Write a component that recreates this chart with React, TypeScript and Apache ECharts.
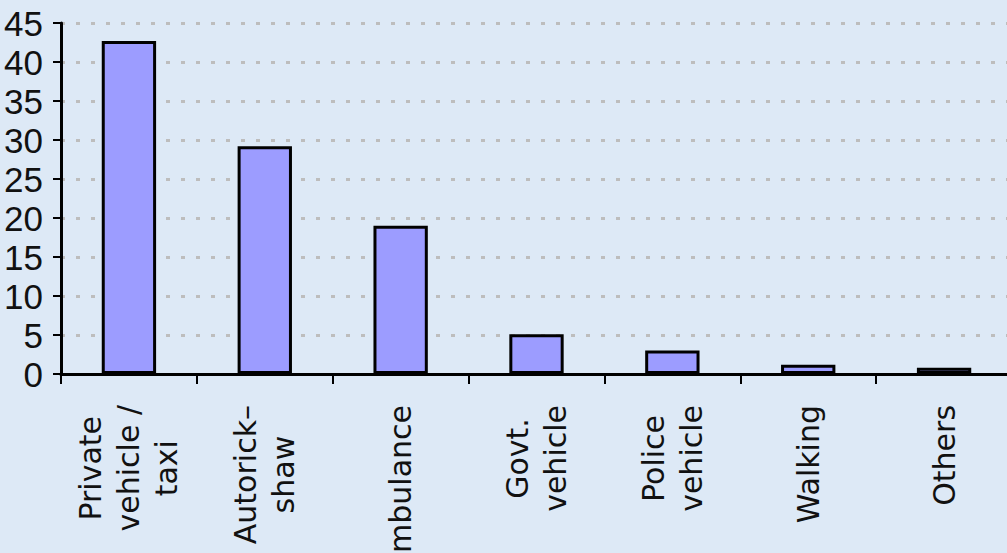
import React, { useEffect, useRef } from "react";
import * as echarts from "echarts";

// Mode of transport to hospital (percent of patients)
const categories = [
  "Private\nvehicle /\ntaxi",
  "Autorick–\nshaw",
  "Ambulance",
  "Govt.\nvehicle",
  "Police\nvehicle",
  "Walking",
  "Others",
];
const values = [42.7, 29.2, 19, 5.1, 3, 1.2, 0.8];
const yMin = 0;
const yMax = 45;
const yStep = 5;

const labelFont = "DejaVu Sans";
const numberFont = "'Liberation Sans', Arial, sans-serif";

export default function App() {
  const ref = useRef<HTMLDivElement>(null);

  useEffect(() => {
    if (!ref.current) return;
    const chart = echarts.init(ref.current, null, { renderer: "svg" });
    chart.setOption({
      animation: false,
      backgroundColor: "#dde9f6",
      grid: {
        left: 61,
        right: -5,
        top: 23,
        bottom: 179,
        containLabel: false,
        outerBoundsMode: "none",
      },
      xAxis: {
        type: "category",
        data: categories,
        axisLine: { lineStyle: { color: "#000", width: 3 } },
        axisTick: { show: true, length: 10, lineStyle: { color: "#000", width: 2 } },
        axisLabel: {
          rotate: 90,
          margin: 31,
          interval: 0,
          fontFamily: labelFont,
          fontSize: 30,
          lineHeight: 38,
          color: "#111",
          // each line centred within its label block; block starts below the axis
          formatter: (v: string) =>
            v
              .split("\n")
              .map((line) => `{c|${line}}`)
              .join("\n"),
          rich: {
            c: {
              align: "center",
              fontFamily: labelFont,
              fontSize: 30,
              lineHeight: 38,
              color: "#111",
            },
          },
        },
        splitLine: { show: false },
      },
      yAxis: {
        type: "value",
        min: yMin,
        max: yMax,
        interval: yStep,
        axisLine: { show: true, lineStyle: { color: "#000", width: 3 } },
        axisTick: { show: true, length: 8, lineStyle: { color: "#000", width: 2 } },
        axisLabel: {
          margin: 18,
          fontFamily: numberFont,
          fontSize: 35,
          color: "#111",
        },
        splitLine: {
          show: true,
          lineStyle: { color: "#bdbdbd", width: 3, type: [4, 11] },
        },
      },
      series: [
        {
          type: "bar",
          data: values,
          barWidth: "40%",
          itemStyle: { color: "#9c9cff", borderColor: "#000", borderWidth: 3 },
        },
      ],
    });
    return () => chart.dispose();
  }, []);

  return (
    <div
      ref={ref}
      style={{ position: "absolute", left: 0, top: 0, width: 1007, height: 553 }}
    />
  );
}
